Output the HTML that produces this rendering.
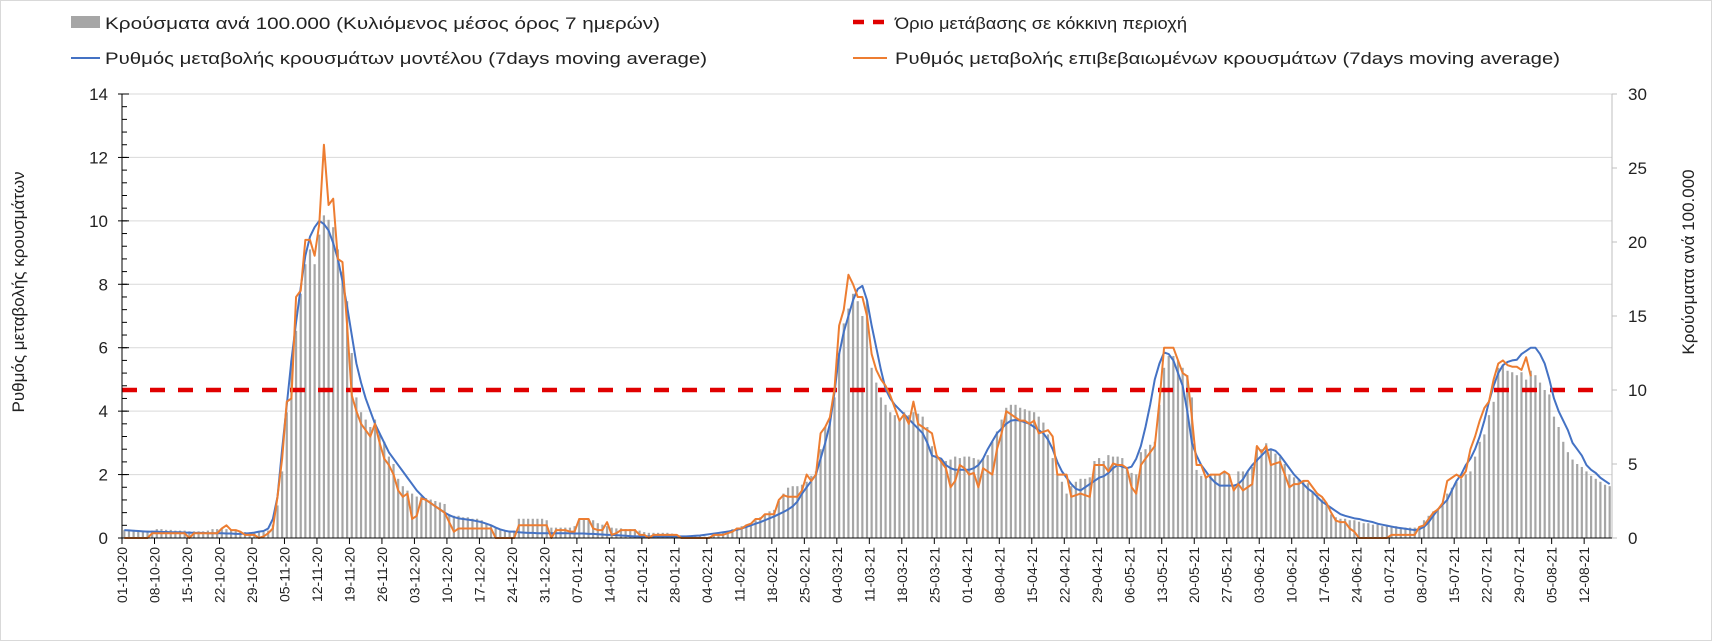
<!DOCTYPE html>
<html><head><meta charset="utf-8"><style>
html,body{margin:0;padding:0;background:#fff;}
svg{display:block;font-family:"Liberation Sans",sans-serif;}
</style></head><body>
<svg id="chart" width="1712" height="641" viewBox="0 0 1712 641" xmlns="http://www.w3.org/2000/svg">
<rect x="0.5" y="0.5" width="1711" height="640" fill="#fff" stroke="#d9d9d9"/>
<g id="grid"></g>
<g id="bars"></g>
<g id="lines"></g>
<g id="axes"></g>
<g font-size="17" fill="#222">
  <g>
    <rect x="71" y="16" width="29" height="12" fill="#a6a6a6"/>
    <text x="105" y="29" textLength="555" lengthAdjust="spacingAndGlyphs">Κρούσματα ανά 100.000 (Κυλιόμενος μέσος όρος 7 ημερών)</text>
  </g>
  <g>
    <line x1="71" y1="58" x2="100" y2="58" stroke="#4472c4" stroke-width="2"/>
    <text x="105" y="64" textLength="602" lengthAdjust="spacingAndGlyphs">Ρυθμός μεταβολής κρουσμάτων μοντέλου (7days moving average)</text>
  </g>
  <g>
    <line x1="853" y1="22" x2="887" y2="22" stroke="#e00000" stroke-width="4.5" stroke-dasharray="11 9"/>
    <text x="895" y="29" textLength="292" lengthAdjust="spacingAndGlyphs">Όριο μετάβασης σε κόκκινη περιοχή</text>
  </g>
  <g>
    <line x1="853" y1="58" x2="887" y2="58" stroke="#ed7d31" stroke-width="2"/>
    <text x="895" y="64" textLength="665" lengthAdjust="spacingAndGlyphs">Ρυθμός μεταβολής επιβεβαιωμένων κρουσμάτων (7days moving average)</text>
  </g>
</g>
<text transform="translate(24,292) rotate(-90)" text-anchor="middle" font-size="17" fill="#222">Ρυθμός μεταβολής κρουσμάτων</text>
<text transform="translate(1694,262) rotate(-90)" text-anchor="middle" font-size="17" fill="#222">Κρούσματα ανά 100.000</text>
</svg>
<script>
const startDate = [2020, 9, 1];
const leftTicks = [0,2,4,6,8,10,12,14];
const rightTicks = [0,5,10,15,20,25,30];
const threshold = [10];
const cases = [
.55,.55,.55,.5,.5,.5,.5, .6,.6,.55,.55,.5,.5,.5, .45,.45,.45,.45,.5,.6,.6, .6,.6,.55,.5,.45,.4,.4,
.4,.4,.4,.5,.9,2.2,4.5, 8.5,12.0,14.0,16.5,18.5,19.5,18.5, 20.5,21.8,21.5,21.0,19.5,18.0,16.0,
12.5,9.5,8.5,8.0,7.5,8.0,7.0, 6.5,5.5,5.0,4.0,3.5,3.2,3.0, 2.8,2.8,2.7,2.6,2.5,2.4,2.3,
1.6,1.5,1.5,1.4,1.4,1.3,1.3, 1.2,1.0,0.8,0.7,0.6,0.5,0.5, 0.5,1.3,1.3,1.3,1.3,1.3,1.3,
1.2,0.7,0.7,0.7,0.7,0.7,0.8, 1.3,1.3,1.3,1.2,1.0,0.9,0.8, 0.7,0.65,0.65,0.6,0.6,0.6,0.5,
0.4,0.35,0.35,0.35,0.35,0.35,0.3, 0.2,0.1,0.1,0.1,0.1,0.1,0.1, 0.1,0.2,0.3,0.4,0.5,0.6,0.7,
0.8,0.9,1.0,1.2,1.4,1.6,1.8, 1.9,2.5,3.0,3.4,3.5,3.5,3.6, 3.8,4.2,4.5,6.0,7.5,8.0,9.5,
12.5,14.5,15.5,16.5,16.0,15.0,16.0, 11.5,10.5,9.5,9.0,8.5,8.3,8.0, 8.5,8.3,8.5,8.4,8.2,7.5,6.2,
5.6,5.3,5.2,5.3,5.5,5.4,5.5, 5.5,5.4,5.3,5.4,5.6,6.5,7.2, 8.0,8.8,9.0,9.0,8.8,8.7,8.6,
8.5,8.2,7.8,7.0,5.4,4.3,3.8, 3.0,3.5,3.8,4.0,4.0,4.1,5.2, 5.4,5.2,5.6,5.5,5.5,5.4,4.8,
4.4,4.3,5.8,6.0,6.3,6.5,9.0, 11.5,12.3,12.3,12.0,11.5,11.0,9.5, 4.6,4.2,4.2,4.3,4.3,4.3,4.4,
4.3,3.6,4.5,4.5,4.5,4.8,6.2, 6.0,6.4,6.0,5.7,5.5,5.0,4.3, 4.1,4.0,3.9,3.7,3.1,2.9,2.6,
2.2,1.6,1.4,1.3,1.3,1.2,1.2, 1.1,1.0,1.0,0.9,0.9,0.8,0.8, 0.8,0.8,0.7,0.7,0.7,0.7,0.8,
1.2,1.5,1.8,2.0,2.2,3.0,3.4, 3.8,4.0,4.3,4.5,5.5,6.5,7.0, 8.3,9.2,11.5,11.7,11.3,11.2,11.0,
11.2,10.7,11.3,11.0,10.5,10.0,9.7, 8.2,7.5,6.5,5.8,5.3,5.0,4.8, 4.5,4.2,4.0,3.8,3.6,3.5
];
const modelRate = [
.25,.24,.23,.22,.21,.2,.2, .2,.19,.19,.18,.18,.18,.17, .17,.16,.16,.16,.15,.15,.15, .15,.14,.14,.13,.13,.14,.15,
.17,.2,.22,.3,.6,1.3,2.8, 4.2,5.6,6.8,7.9,8.9,9.5,9.8, 10.0,9.9,9.7,9.3,8.8,8.1,7.3,
6.4,5.5,4.9,4.4,4.0,3.6,3.3, 3.0,2.7,2.5,2.3,2.1,1.9,1.7, 1.5,1.35,1.2,1.1,1.0,0.9,0.8,
.72,.66,.62,.6,.58,.56,.53, .5,.45,.4,.33,.27,.23,.2, .2,.18,.17,.16,.16,.15,.15,
.15,.15,.15,.15,.15,.15,.14, .14,.14,.13,.13,.12,.11,.1, .1,.09,.08,.07,.06,.05,.05,
.05,.05,.05,.05,.05,.05,.05, .05,.05,.05,.06,.07,.08,.1, .12,.14,.16,.18,.2,.23,.26,
.3,.35,.4,.45,.5,.56,.62, .68,.75,.82,.9,1.0,1.15,1.4, 1.6,1.8,2.0,2.5,3.0,3.6,4.6,
5.8,6.5,7.0,7.5,7.85,7.95,7.5, 6.7,6.0,5.3,4.7,4.4,4.2,4.05, 3.9,3.75,3.6,3.45,3.3,3.0,2.6,
2.55,2.5,2.3,2.2,2.15,2.15,2.15, 2.15,2.2,2.3,2.5,2.8,3.05,3.3, 3.45,3.6,3.7,3.72,3.7,3.65,3.6,
3.5,3.4,3.3,3.1,2.8,2.4,2.1, 1.9,1.7,1.55,1.5,1.6,1.7,1.8, 1.9,1.95,2.05,2.2,2.3,2.25,2.2,
2.25,2.5,2.9,3.5,4.2,5.0,5.5, 5.85,5.8,5.6,5.2,4.8,4.0,3.0, 2.6,2.3,2.1,1.9,1.75,1.65,1.65,
1.65,1.65,1.7,1.85,2.1,2.3,2.45, 2.6,2.75,2.8,2.75,2.6,2.4,2.2, 2.0,1.85,1.7,1.55,1.45,1.3,1.15,
1.05,0.95,0.85,0.75,0.7,0.66,0.62, .6,.56,.53,.5,.45,.42,.39, .36,.33,.31,.29,.27,.25,.28,
.35,.5,.7,.9,1.05,1.2,1.5, 1.8,2.0,2.3,2.5,2.8,3.2,3.7, 4.3,4.8,5.2,5.45,5.55,5.6,5.62,
5.8,5.9,6.0,6.0,5.8,5.5,5.0, 4.4,4.0,3.7,3.4,3.0,2.8,2.6, 2.3,2.15,2.05,1.9,1.8,1.7
];
const confirmedRate = [
0,0,0,0,0,0,.15, .15,.15,.15,.15,.15,.15,.15, 0,.15,.15,.15,.15,.15,.15, .3,.4,.25,.25,.2,.1,.1,
.1,0,.05,.15,.3,1.3,2.5, 4.3,4.4,7.6,7.8,9.4,9.4,8.9, 9.9,12.4,10.5,10.7,8.8,8.7,6.7,
4.5,4.0,3.6,3.4,3.2,3.6,3.0, 2.5,2.3,2.0,1.5,1.3,1.4,0.6, 0.7,1.25,1.2,1.1,1.0,0.9,0.8,
0.5,0.2,0.3,0.3,0.3,0.3,0.3, 0.3,0.3,0.3,0,0,0,0, 0,0.4,0.4,0.4,0.4,0.4,0.4,
0.4,0,0.25,0.25,0.25,0.2,0.2, 0.6,0.6,0.6,0.3,0.25,0.25,0.5, 0.1,0.15,0.25,0.25,0.25,0.25,0.1,
0.1,0,0.1,0.1,0.1,0.1,0.1, 0.1,0,0,0,0,0,0, 0,0.1,0.1,0.1,0.15,0.2,0.3,
0.3,0.4,0.45,0.6,0.6,0.75,0.75, 0.75,1.2,1.35,1.3,1.3,1.3,1.5, 2.0,1.8,2.0,3.3,3.5,3.8,4.7,
6.7,7.2,8.3,8.0,7.6,7.6,7.0, 5.8,5.3,5.0,4.8,4.5,4.1,3.7, 3.9,3.6,4.3,3.6,3.5,3.4,3.3,
2.6,2.4,2.2,1.6,1.8,2.3,2.2, 2.0,2.05,1.6,2.2,2.1,2.0,2.8, 3.3,4.0,3.9,3.8,3.7,3.7,3.6,
3.7,3.3,3.35,3.4,3.2,2.0,2.0, 2.0,1.3,1.35,1.4,1.35,1.3,2.3, 2.3,2.3,2.1,2.35,2.3,2.3,2.2,
1.6,1.4,2.3,2.5,2.7,2.9,4.3, 6.0,6.0,6.0,5.6,5.2,5.1,3.8, 2.3,2.3,1.9,2.0,2.0,2.0,2.1,
2.0,1.5,1.7,1.5,1.6,1.7,2.9, 2.7,2.9,2.3,2.35,2.4,2.0,1.6, 1.7,1.7,1.8,1.8,1.6,1.4,1.3,
1.1,0.8,0.55,0.5,0.5,0.3,0.2, 0,0,0,0,0,0,0, 0.1,0.1,0.1,0.1,0.1,0.1,0.35,
0.4,0.6,0.8,0.9,1.1,1.8,1.9, 2.0,1.9,2.1,2.8,3.2,3.7,4.1, 4.3,5.0,5.5,5.6,5.45,5.4,5.4,
5.3,5.7,5.1
];

const NS = "http://www.w3.org/2000/svg";
const X0 = 122, X1 = 1612, Y0 = 538, Y1 = 94;
const nCat = cases.length;
const cw = (X1 - X0) / nCat;
function xPos(i){ return X0 + (i + 0.5) * cw; }
function xEdge(i){ return X0 + i * cw; }
function yL(v){ return Y0 - v / 14 * (Y0 - Y1); }
function yR(v){ return Y0 - v / 30 * (Y0 - Y1); }
function mk(tag, attrs, parent){
  const el = document.createElementNS(NS, tag);
  for (const k in attrs) el.setAttribute(k, attrs[k]);
  parent.appendChild(el);
  return el;
}
const grid = document.getElementById('grid');
const bars = document.getElementById('bars');
const lines = document.getElementById('lines');
const axes = document.getElementById('axes');

leftTicks.forEach(t => {
  if (t === 0) return;
  const g = mk('line', {x1:X0, x2:X1, y1:yL(t), y2:yL(t), stroke:'#d9d9d9', 'stroke-width':1}, grid);
  
  
});

cases.forEach((v, i) => {
  const h = Y0 - yR(v);
  const r = mk('rect', {x:(xPos(i) - 1.1).toFixed(2), y:yR(v).toFixed(2), width:2.2, height:h.toFixed(2), fill:'#a6a6a6'}, bars);
  
  
});

threshold.forEach(t => {
  const th = mk('line', {x1:X0, x2:1593, y1:yR(t), y2:yR(t), stroke:'#e00000', 'stroke-width':4.5, 'stroke-dasharray':'15 13'}, lines);
  
  
});

function pathOf(arr){
  let d = '';
  arr.forEach((v, i) => { d += (i ? 'L' : 'M') + xPos(i).toFixed(2) + ',' + yL(v).toFixed(2); });
  return d;
}
const pm = mk('path', {d:pathOf(modelRate), fill:'none', stroke:'#4472c4', 'stroke-width':2, 'stroke-linejoin':'round'}, lines);


const pc = mk('path', {d:pathOf(confirmedRate), fill:'none', stroke:'#ed7d31', 'stroke-width':2, 'stroke-linejoin':'round'}, lines);



const la = mk('line', {x1:X0, x2:X0, y1:Y1, y2:Y0, stroke:'#000', 'stroke-width':1}, axes);


const ra = mk('line', {x1:X1, x2:X1, y1:Y1, y2:Y0, stroke:'#bfbfbf', 'stroke-width':1}, axes);


const xa = mk('line', {x1:X0, x2:X1, y1:Y0, y2:Y0, stroke:'#000', 'stroke-width':1}, axes);



for (let v = 0; v <= 14.001; v += 0.4) {
  const mt = mk('line', {x1:X0, x2:X0 + 5, y1:yL(v), y2:yL(v), stroke:'#000', 'stroke-width':1}, axes);
  
  
}
leftTicks.forEach(t => {
  const tk = mk('line', {x1:X0 - 4, x2:X0 + 7, y1:yL(t), y2:yL(t), stroke:'#000', 'stroke-width':1}, axes);
  
  
  const tx = mk('text', {x:108, y:yL(t) + 6, 'text-anchor':'end', 'font-size':17, fill:'#222'}, axes);
  tx.textContent = t;
  
  
});
rightTicks.forEach(t => {
  const tk = mk('line', {x1:X1, x2:X1 + 5, y1:yR(t), y2:yR(t), stroke:'#bfbfbf', 'stroke-width':1}, axes);
  
  
  const tx = mk('text', {x:1628, y:yR(t) + 6, 'text-anchor':'start', 'font-size':17, fill:'#222'}, axes);
  tx.textContent = t;
  
  
});

function pad(n){ return (n < 10 ? '0' : '') + n; }
for (let i = 0; i < nCat; i += 7) {
  const x = xEdge(i);
  const tk = mk('line', {x1:x, x2:x, y1:Y0, y2:Y0 + 6, stroke:'#000', 'stroke-width':1}, axes);
  
  
  const d = new Date(startDate[0], startDate[1], startDate[2] + i);
  const lbl = pad(d.getDate()) + '-' + pad(d.getMonth() + 1) + '-' + String(d.getFullYear()).slice(2);
  const tx = mk('text', {transform:'translate(' + (x + 5).toFixed(1) + ',' + (Y0 + 9) + ') rotate(-90)', 'text-anchor':'end', 'font-size':14, fill:'#222'}, axes);
  tx.textContent = lbl;
  
  
}
</script>
</body></html>
